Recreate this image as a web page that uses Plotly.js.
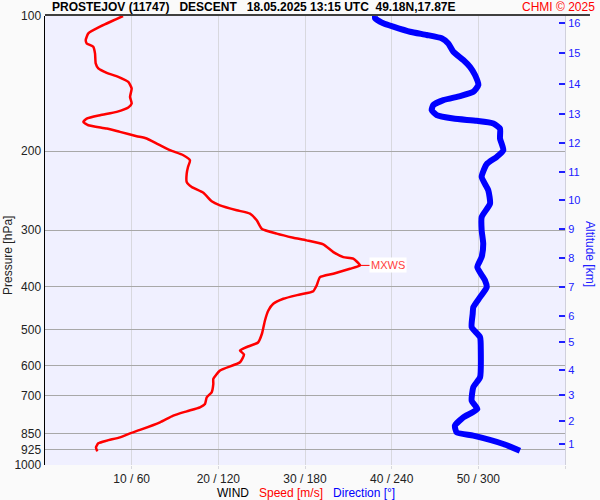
<!DOCTYPE html>
<html>
<head>
<meta charset="utf-8">
<script src="https://cdn.plot.ly/plotly-3.0.1.min.js"></script>
<style>
html,body{margin:0;padding:0;background:#FAFAFA;}
#chart{width:600px;height:500px;}
</style>
</head>
<body>
<div id="chart"></div>
<script>
// ---- data ----
const titleText = "PROSTEJOV (11747)\u00A0\u00A0 DESCENT\u00A0\u00A0 18.05.2025 13:15 UTC\u00A0 49.18N,17.87E";
const creditText = "CHMI \u00A9 2025";

// wind speed [m/s] vs pressure [hPa]
const speedPressure = [100,105.6,109.3,113.1,115.1,117.1,121.1,127.5,130.8,133.8,136.6,140.2,145.0,151.4,156.6,159.9,163.5,166.3,169.2,172.2,175.1,178.1,181.2,185.2,187.4,192.3,199.0,204.2,209.6,216.9,224.3,234.2,240.3,247.6,258.6,264.0,270.8,275.5,285.1,297.6,305.3,311.7,316.0,322.6,335.6,344.3,347.1,359.3,365.5,374.9,381.5,398.1,410.0,417.0,426.4,437.5,452.8,476.6,509.5,533.6,544.6,555.9,567.5,590.3,616.0,643.0,659.7,688.8,706.7,731.1,743.9,759.4,776.2,803.5,835.4,850.1,867.7,882.6,894.9,913.4,932.5];
const speed = [9.0,6.35,5.0,4.7,4.81,5.57,5.77,5.85,6.15,7.12,8.46,9.61,10.0,9.81,10.0,9.61,8.27,6.35,4.81,4.42,5.0,7.12,8.65,10.58,11.73,12.89,14.42,15.96,16.73,16.5,16.35,16.35,16.93,18.27,19.23,20.19,22.12,23.65,24.43,25.0,26.73,28.65,30.19,32.11,33.27,34.42,35.57,36.35,35.19,33.27,31.73,31.35,30.96,29.42,27.5,26.34,25.77,25.38,25.04,24.58,23.42,22.5,22.96,22.5,20.19,19.42,19.42,19.23,18.66,18.46,17.88,16.35,14.8,13.27,10.96,9.81,8.65,7.12,6.15,5.88,6.03];

// wind direction [deg] vs pressure [hPa]
const dirPressure = [100,101.2,103.8,105.6,108.4,110.2,112.1,115.1,120.1,125.3,129.8,135.4,142.5,147.5,150.8,153.9,157.9,162.0,166.3,169.2,171.2,173.5,178.1,187.4,199.0,206.0,213.8,228.3,244.5,261.7,280.4,300.2,321.4,344.3,362.5,388.0,401.8,422.8,445.2,460.5,493.3,519.4,555.9,637.7,671.3,719.0,750.3,783.3,817.3,846.0,860.4,897.9,929.1];
const direction = [228.5,228.5,234.2,241.1,252.7,264.3,274.6,279.2,282.7,289.6,294.2,297.7,300.0,296.5,287.3,275.8,268.8,267.7,271.2,282.7,298.9,310.4,315.0,315.0,317.3,312.7,305.8,302.3,306.9,308.1,302.3,302.3,303.4,302.3,299.3,304.6,305.8,301.2,296.5,296.1,295.4,301.2,301.7,301.2,296.5,295.4,299.3,289.6,283.8,285.0,296.5,317.3,328.8];

// axis ticks
const pressureTicks = [100,200,300,400,500,600,700,850,925,1000];
const windTicks = [10,20,30,40,50,60];
const windTickText = ["10 / 60","20 / 120","30 / 180","40 / 240","50 / 300",""];
const altitudeKm = [16,15,14,13,12,11,10,9,8,7,6,5,4,3,2,1];
const altitudePressure = [103.7,120.9,141.8,165.5,192.1,222.9,257.1,298.5,346.4,402.0,466.5,533.5,613.8,697.4,798.2,898.9];

// ---- chart ----
const FONT = "Liberation Sans, Arial, sans-serif";
const L10 = Math.log10;

let iMax = 0;
speed.forEach((v,i)=>{ if (v > speed[iMax]) iMax = i; });
const maxSpeed = speed[iMax], maxP = speedPressure[iMax];

const traces = [
  {x: direction, y: dirPressure, xaxis:'x2', yaxis:'y', type:'scatter', mode:'lines',
   line:{color:'#0000FF', width:6, shape:'spline', smoothing:0.5}, hoverinfo:'skip', showlegend:false},
  {x: speed, y: speedPressure, xaxis:'x', yaxis:'y', type:'scatter', mode:'lines',
   line:{color:'#FF0000', width:2.5, shape:'spline', smoothing:0.5}, hoverinfo:'skip', showlegend:false},
  {x: [], y: [], xaxis:'x', yaxis:'y2', type:'scatter', mode:'lines', showlegend:false, hoverinfo:'skip'}
];

const layout = {
  width:600, height:500,
  margin:{l:45, r:35, t:16, b:35},
  paper_bgcolor:'#FAFAFA',
  plot_bgcolor:'#F0F0FF',
  font:{family:FONT, size:12, color:'#333333'},
  showlegend:false,
  xaxis:{
    range:[0,60], tickvals:windTicks, ticktext:windTickText,
    showgrid:true, gridcolor:'#D8D8DE', gridwidth:1,
    ticks:'outside', ticklen:3, tickcolor:'#D8D8DE',
    zeroline:false, showline:false,
    tickfont:{family:FONT, size:12, color:'#222222'}
  },
  xaxis2:{range:[0,360], overlaying:'x', visible:false},
  yaxis:{
    type:'log', range:[L10(1000), L10(100)],
    tickvals:pressureTicks, ticktext:pressureTicks.map(String),
    showgrid:true, gridcolor:'#A8A8A8', gridwidth:1,
    ticks:'', showline:true, linecolor:'#000000', linewidth:1.5,
    zeroline:false,
    tickfont:{family:FONT, size:12, color:'#222222'}
  },
  yaxis2:{
    type:'log', range:[L10(1000), L10(100)], overlaying:'y', side:'right',
    tickvals:altitudePressure, ticktext:altitudeKm.map(String),
    ticks:'inside', ticklen:6, tickwidth:2, tickcolor:'#2020FF',
    showgrid:false, zeroline:false,
    showline:true, linecolor:'#D0D0DC', linewidth:1,
    tickfont:{family:FONT, size:11, color:'#2020FF'}
  },
  shapes:[
    {type:'line', xref:'paper', yref:'paper', x0:0, x1:1.048, y0:1.002, y1:1.002,
     line:{color:'#000000', width:1.5}},
    {type:'line', xref:'paper', yref:'y', x0:-0.004, x1:0.021, y0:L10(maxP), y1:L10(maxP),
     line:{color:'#DD0000', width:1}},
    {type:'line', xref:'paper', yref:'y', x0:0.98, x1:1.0, y0:L10(maxP), y1:L10(maxP),
     line:{color:'#DD0000', width:1}}
  ],
  annotations:[
    {text:'<b>'+titleText+'</b>', xref:'paper', yref:'paper', x:0.0096, y:1.02,
     xanchor:'left', yanchor:'middle', showarrow:false,
     font:{family:FONT, size:12, color:'#000000'}},
    {text:creditText, xref:'paper', yref:'paper', x:1.0615, y:1.02,
     xanchor:'right', yanchor:'middle', showarrow:false,
     font:{family:FONT, size:12, color:'#FF0000'}},
    {text:'Pressure [hPa]', xref:'paper', yref:'paper', x:-0.0712, y:0.4677,
     xanchor:'center', yanchor:'middle', textangle:-90, showarrow:false,
     font:{family:FONT, size:12, color:'#222222'}},
    {text:'Altitude [km]', xref:'paper', yref:'paper', x:1.048, y:0.47,
     xanchor:'center', yanchor:'middle', textangle:90, showarrow:false,
     font:{family:FONT, size:12, color:'#2020FF'}},
    {text:'WIND\u00A0\u00A0 <span style="color:#FF0000">Speed [m/s]</span>\u00A0\u00A0 <span style="color:#0000FF">Direction [°]</span>',
     xref:'paper', yref:'paper', x:0.502, y:-0.062, xanchor:'center', yanchor:'middle',
     showarrow:false, font:{family:FONT, size:12, color:'#000000'}},
    {text:'MXWS', xref:'x', yref:'y', x:maxSpeed, y:L10(maxP), ax:28, ay:0,
     showarrow:true, arrowhead:0, arrowwidth:1, arrowcolor:'#FF0000',
     bgcolor:'#FFFFFF', borderpad:1,
     font:{family:FONT, size:11, color:'#FF4040'}}
  ]
};

Plotly.newPlot('chart', traces, layout, {staticPlot:true, displayModeBar:false});
</script>
</body>
</html>
